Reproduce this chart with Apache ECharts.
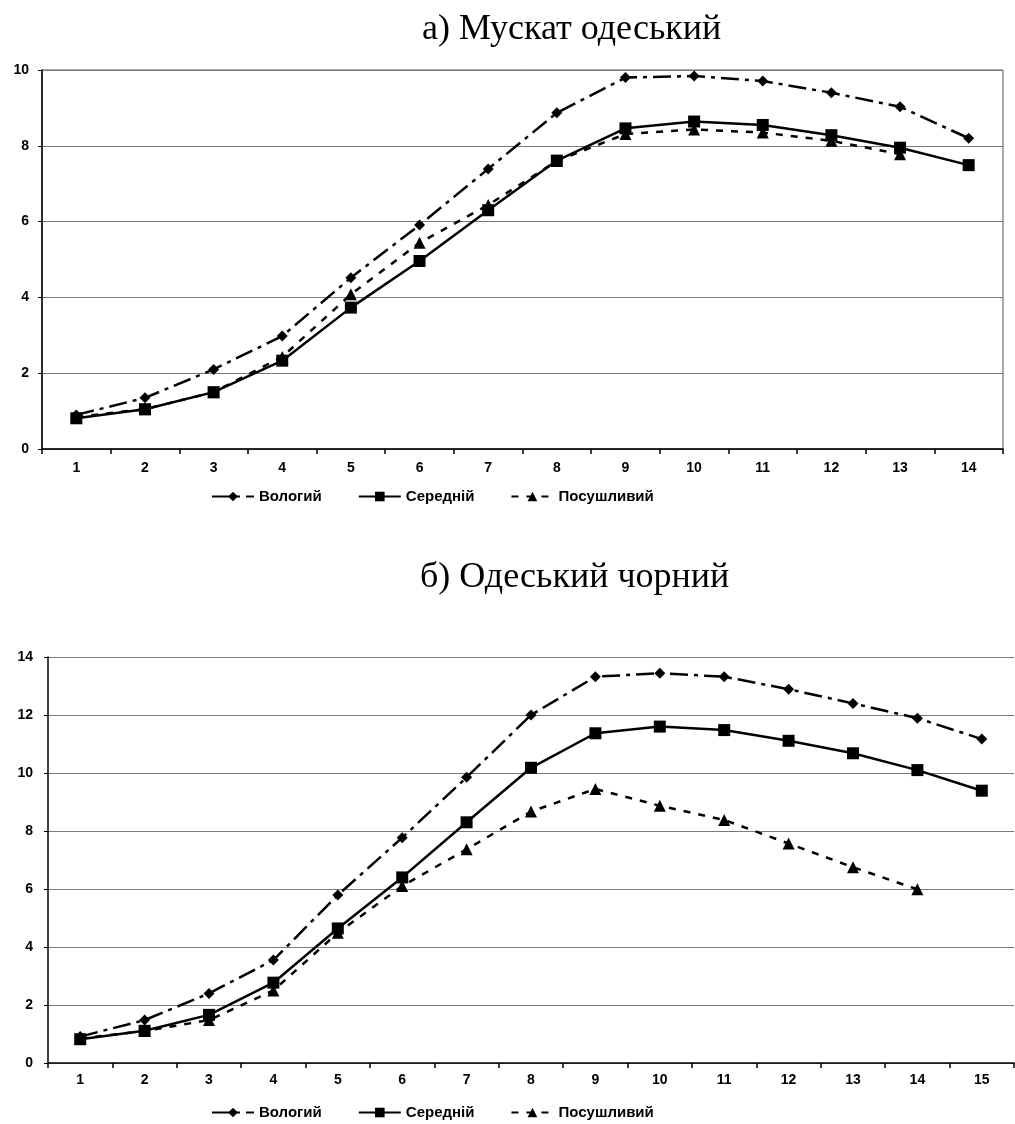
<!DOCTYPE html>
<html>
<head>
<meta charset="utf-8">
<script src="https://cdn.jsdelivr.net/npm/echarts@6/dist/echarts.min.js"></script>
<style>html,body{margin:0;padding:0;background:#fff;}#c{width:1015px;height:1124px;}</style>
</head>
<body>
<div id="c"></div>
<script>
// ---- data ----
const title1 = 'а) Мускат одеський';
const title2 = 'б) Одеський чорний';
const seriesNames = ['Вологий', 'Середній', 'Посушливий'];
const categories1 = ['1','2','3','4','5','6','7','8','9','10','11','12','13','14'];
const categories2 = ['1','2','3','4','5','6','7','8','9','10','11','12','13','14','15'];
const wet1 = [0.9, 1.35, 2.1, 2.98, 4.52, 5.91, 7.39, 8.87, 9.8, 9.84, 9.71, 9.4, 9.03, 8.2];
const mid1 = [0.81, 1.05, 1.5, 2.33, 3.73, 4.96, 6.3, 7.61, 8.46, 8.64, 8.55, 8.28, 7.95, 7.49];
const dry1 = [0.85, 1.05, 1.5, 2.43, 4.08, 5.44, 6.44, 7.6, 8.31, 8.43, 8.35, 8.13, 7.78, null];
const wet2 = [0.91, 1.48, 2.4, 3.55, 5.79, 7.77, 9.85, 12.0, 13.32, 13.44, 13.32, 12.89, 12.4, 11.89, 11.17];
const mid2 = [0.82, 1.11, 1.66, 2.77, 4.64, 6.4, 8.3, 10.18, 11.37, 11.6, 11.48, 11.11, 10.68, 10.1, 9.39];
const dry2 = [0.85, 1.1, 1.48, 2.5, 4.49, 6.1, 7.37, 8.67, 9.45, 8.87, 8.38, 7.57, 6.75, 5.99, null];
const yMax1 = 10, yMax2 = 14, yStep = 2;

// ---- styles ----
const lblFont = { fontFamily: 'Liberation Sans, Arial, sans-serif', fontWeight: 'bold', fontSize: 14, color: '#000' };
const styles = [
  { symbol: 'diamond', symbolSize: 11, lineStyle: { color: '#000', width: 2.5, type: [18, 6, 4, 6] } },
  { symbol: 'rect', symbolSize: 12, lineStyle: { color: '#000', width: 2.5, type: 'solid' } },
  { symbol: 'triangle', symbolSize: 12, lineStyle: { color: '#000', width: 2.5, type: [7, 8] } }
];
function mkSeries(data, i, axisIdx) {
  return {
    type: 'line', name: seriesNames[i], data: data,
    xAxisIndex: axisIdx, yAxisIndex: axisIdx,
    symbol: styles[i].symbol, symbolSize: styles[i].symbolSize,
    itemStyle: { color: '#000' }, lineStyle: styles[i].lineStyle,
    connectNulls: false, animation: false, z: 3 - i + 2
  };
}
function xAx(cats, gi, margin) {
  return {
    type: 'category', gridIndex: gi, data: cats, boundaryGap: true,
    axisLine: { lineStyle: { color: '#000', width: 1.5 } },
    axisTick: { show: true, length: 5, alignWithLabel: false, lineStyle: { color: '#000', width: 1.5 } },
    axisLabel: Object.assign({ margin: margin, interval: 0 }, lblFont),
    splitLine: { show: false }
  };
}
function yAx(max, gi, margin) {
  return {
    type: 'value', gridIndex: gi, min: 0, max: max, interval: yStep,
    axisLine: { show: true, lineStyle: { color: '#000', width: 1.5 } },
    axisTick: { show: true, length: 4, lineStyle: { color: '#000', width: 1 } },
    axisLabel: Object.assign({ margin: margin }, lblFont),
    splitLine: { show: true, lineStyle: { color: '#7a7a7a', width: 1 } }
  };
}
const titleStyle = { fontFamily: 'Liberation Serif, Times New Roman, serif', fontSize: 36, fontWeight: 'normal', color: '#000' };
const legendCommon = {
  itemWidth: 42, itemHeight: 12, itemGap: 36,
  textStyle: { fontFamily: 'Liberation Sans, Arial, sans-serif', fontWeight: 'bold', fontSize: 15, color: '#000' }
};

const chart = echarts.init(document.getElementById('c'), null, { renderer: 'canvas' });
chart.setOption({
  backgroundColor: '#fff',
  animation: false,
  title: [
    { text: title1, left: 417, top: 7, textStyle: titleStyle },
    { text: title2, left: 415, top: 555, textStyle: titleStyle }
  ],
  legend: [
    Object.assign({ data: seriesNames, left: 206, top: 484 }, legendCommon),
    Object.assign({ data: seriesNames, left: 206, top: 1100 }, legendCommon)
  ],
  grid: [
    { left: 42, right: 12, top: 70, height: 379, show: true, borderColor: '#555', borderWidth: 1, backgroundColor: 'transparent' },
    { left: 48, right: 1, top: 657, height: 406 }
  ],
  xAxis: [xAx(categories1, 0, 12), xAx(categories2, 1, 10)],
  yAxis: [yAx(yMax1, 0, 13), yAx(yMax2, 1, 15)],
  series: [
    mkSeries(wet1, 0, 0), mkSeries(mid1, 1, 0), mkSeries(dry1, 2, 0),
    mkSeries(wet2, 0, 1), mkSeries(mid2, 1, 1), mkSeries(dry2, 2, 1)
  ]
});
</script>
</body>
</html>
